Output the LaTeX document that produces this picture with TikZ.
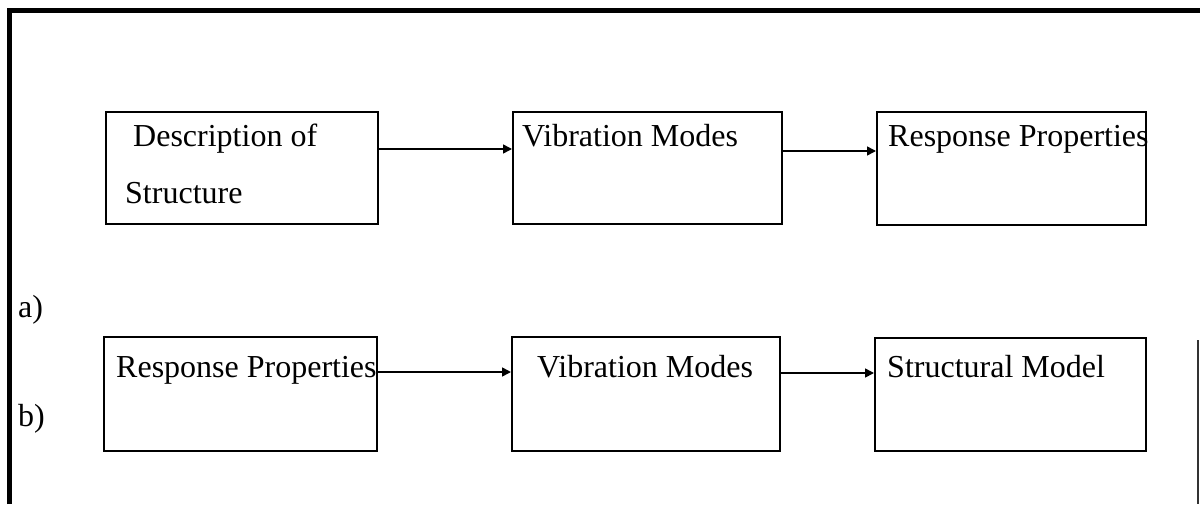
\documentclass[tikz,border=0pt]{standalone}
\usepackage{fontspec}
\setmainfont{Liberation Serif}
\usetikzlibrary{arrows.meta}
\begin{document}
\begin{tikzpicture}[x=1pt,y=-1pt,
  box/.style={draw, line width=2pt, rectangle, inner sep=0pt},
  txt/.style={anchor=base west, inner sep=0pt, font=\fontsize{32}{38}\selectfont},
  flow/.style={line width=1.6pt, -{Triangle[length=9pt,width=9pt]}},
  frame/.style={line width=5pt}]
\useasboundingbox (0,0) rectangle (1200,504);

% outer frame
\draw[frame] (9.5,504) -- (9.5,10.5) -- (1200,10.5);
\draw[line width=1.2pt, black!80] (1198,340) -- (1198,504);

% row a)
\node[box, minimum width=272pt, minimum height=112pt] (a1) at (242,168) {};
\node[box, minimum width=269pt, minimum height=112pt] (a2) at (647.5,168) {};
\node[box, minimum width=269pt, minimum height=113pt] (a3) at (1011.5,168.5) {};
\node[txt] (a1t) at (133,146) {Description of};
\node[txt] (a1u) at (125,203) {Structure};
\node[txt] (a2t) at (522,146) {Vibration Modes};
\node[txt] (a3t) at (888,146) {Response Properties};

% row b)
\node[box, minimum width=273pt, minimum height=114pt] (b1) at (240.5,394) {};
\node[box, minimum width=268pt, minimum height=114pt] (b2) at (646,394) {};
\node[box, minimum width=271pt, minimum height=113pt] (b3) at (1010.5,394.5) {};
\node[txt] (b1t) at (116,377) {Response Properties};
\node[txt] (b2t) at (537,377) {Vibration Modes};
\node[txt] (b3t) at (887,377) {Structural Model};

% row labels
\node[txt] (la) at (18,317) {a)};
\node[txt] (lb) at (18,426) {b)};

% connectors
\draw[flow] ([yshift=19pt]a1.east) -- ([yshift=19pt]a2.west);
\draw[flow] ([yshift=17pt]a2.east) -- ([yshift=17.5pt]a3.west);
\draw[flow] ([yshift=22pt]b1.east) -- ([yshift=22pt]b2.west);
\draw[flow] ([yshift=21pt]b2.east) -- ([yshift=21.5pt]b3.west);
\end{tikzpicture}
\end{document}
